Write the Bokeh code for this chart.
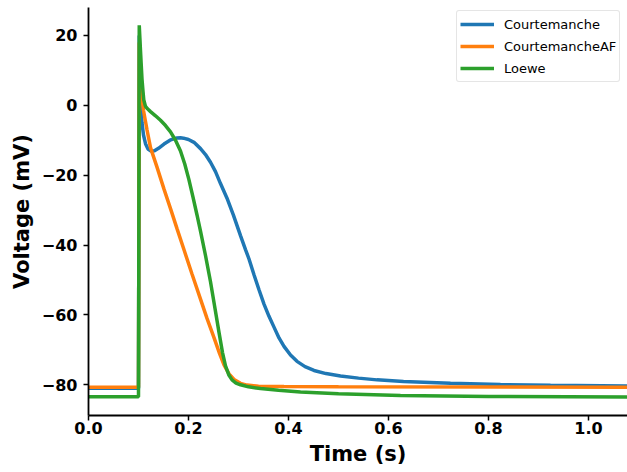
from bokeh.plotting import figure
from bokeh.models import Range1d, FixedTicker, Legend, LegendItem
from bokeh.embed import file_html
from bokeh.resources import INLINE

# ---- data (time in s, voltage in mV) ----
court_t = [0.0, 0.1, 0.1015, 0.103, 0.105, 0.107, 0.110, 0.114, 0.119, 0.125, 0.132, 0.140,
           0.151, 0.163, 0.170, 0.177, 0.184, 0.190, 0.200, 0.211, 0.224, 0.234, 0.244, 0.254,
           0.264, 0.277, 0.290, 0.304, 0.314, 0.321, 0.331, 0.341, 0.351, 0.361, 0.371, 0.381,
           0.391, 0.404, 0.417, 0.433, 0.451, 0.475, 0.504, 0.540, 0.577, 0.630, 0.724, 0.824,
           0.924, 1.1]
court_v = [-81.0, -81.0, 20.0, 8.0, -1.0, -5.0, -8.5, -11.0, -12.5, -13.1, -13.0, -12.3,
           -11.1, -10.0, -9.6, -9.35, -9.3, -9.4, -9.8, -10.6, -12.4, -14.1, -16.3, -19.0,
           -22.4, -26.6, -31.5, -37.3, -41.3, -44.0, -48.5, -52.8, -56.9, -60.4, -63.5, -66.6,
           -69.0, -71.5, -73.3, -74.8, -75.9, -76.8, -77.5, -78.1, -78.6, -79.1, -79.6, -79.95,
           -80.15, -80.4]

af_t = [0.0, 0.1, 0.1015, 0.103, 0.105, 0.107, 0.110, 0.117, 0.124, 0.137, 0.151, 0.165,
        0.177, 0.192, 0.207, 0.224, 0.237, 0.251, 0.262, 0.271, 0.281, 0.291, 0.304, 0.317,
        0.340, 0.391, 0.5, 1.1]
af_v = [-80.7, -80.7, 18.0, 12.0, 6.0, 2.2, -1.5, -7.0, -12.1, -17.7, -24.0, -30.0,
        -35.3, -41.8, -48.3, -55.5, -61.0, -66.5, -71.0, -74.3, -76.9, -78.5, -79.6, -80.1,
        -80.4, -80.5, -80.6, -80.7]

loewe_t = [0.0, 0.1, 0.1015, 0.1035, 0.1053, 0.107, 0.109, 0.1106, 0.114, 0.118, 0.124,
           0.134, 0.144, 0.154, 0.164, 0.174, 0.184, 0.1925, 0.2007, 0.209, 0.217, 0.224,
           0.234, 0.244, 0.252, 0.261, 0.268, 0.274, 0.281, 0.287, 0.295, 0.304, 0.320,
           0.344, 0.380, 0.424, 0.5, 0.624, 0.8, 1.1]
loewe_v = [-83.4, -83.4, 22.9, 17.0, 12.0, 7.5, 4.0, 1.5, -0.3, -1.0, -1.8,
           -3.0, -4.3, -5.8, -7.6, -10.0, -13.1, -16.8, -21.2, -26.3, -31.4, -36.0,
           -43.0, -50.5, -57.3, -65.0, -70.8, -74.6, -77.3, -78.6, -79.5, -80.0, -80.6,
           -81.1, -81.6, -82.1, -82.6, -83.1, -83.35, -83.5]

series_names = ["Courtemanche", "CourtemancheAF", "Loewe"]
series_colors = ["#1f77b4", "#ff7f0e", "#2ca02c"]

x_ticks = [0.0, 0.2, 0.4, 0.6, 0.8, 1.0]
x_tick_labels = ["0.0", "0.2", "0.4", "0.6", "0.8", "1.0"]
y_ticks = [-80, -60, -40, -20, 0, 20]
y_tick_labels = ["\u221280", "\u221260", "\u221240", "\u221220", "0", "20"]

p = figure(width=627, height=472, output_backend="svg", toolbar_location=None,
           x_range=Range1d(0.0, 1.078), y_range=Range1d(-88.8, 28.0),
           min_border_left=88, min_border_top=7, min_border_right=0, min_border_bottom=57)

renderers = []
for t, v, c in zip([court_t, af_t, loewe_t], [court_v, af_v, loewe_v], series_colors):
    r = p.line(t, v, line_color=c, line_width=3.5)
    renderers.append(r)

p.outline_line_color = None
p.xgrid.visible = False
p.ygrid.visible = False

for ax in (p.xaxis[0], p.yaxis[0]):
    ax.axis_line_width = 1.8
    ax.axis_line_color = "black"
    ax.major_tick_line_width = 1.5
    ax.major_tick_out = 5
    ax.major_tick_in = 0
    ax.minor_tick_line_color = None
    ax.major_label_text_font = "DejaVu Sans"
    ax.major_label_text_font_style = "bold"
    ax.major_label_text_font_size = "16px"
    ax.major_label_text_color = "black"
    ax.major_label_text_line_height = 1.0
    ax.axis_label_text_font = "DejaVu Sans"
    ax.axis_label_text_font_style = "bold"
    ax.axis_label_text_font_size = "21px"
    ax.axis_label_text_color = "black"
    ax.axis_label_text_line_height = 1.0

p.xaxis.ticker = FixedTicker(ticks=x_ticks)
p.xaxis.major_label_overrides = dict(zip(x_ticks, x_tick_labels))
p.yaxis.ticker = FixedTicker(ticks=y_ticks)
p.yaxis.major_label_overrides = dict(zip(y_ticks, y_tick_labels))
p.xaxis.axis_label = "Time (s)"
p.yaxis.axis_label = "Voltage (mV)"
p.xaxis.major_label_standoff = 1
p.yaxis.major_label_standoff = 6
p.xaxis.axis_label_standoff = 5
p.yaxis.axis_label_standoff = 5

legend = Legend(items=[LegendItem(label=n, renderers=[r]) for n, r in zip(series_names, renderers)],
                location=(368, 333))
legend.label_text_font = "DejaVu Sans"
legend.label_text_font_size = "13px"
legend.label_text_color = "black"
legend.glyph_width = 34
legend.glyph_height = 20
legend.label_height = 20
legend.spacing = 2
legend.padding = 3
legend.margin = 0
legend.label_standoff = 10
legend.border_line_color = "#cccccc"
legend.border_line_width = 1
legend.border_radius = 3
legend.background_fill_alpha = 0.9
p.add_layout(legend)

open("out.html", "w").write(file_html(p, INLINE))
